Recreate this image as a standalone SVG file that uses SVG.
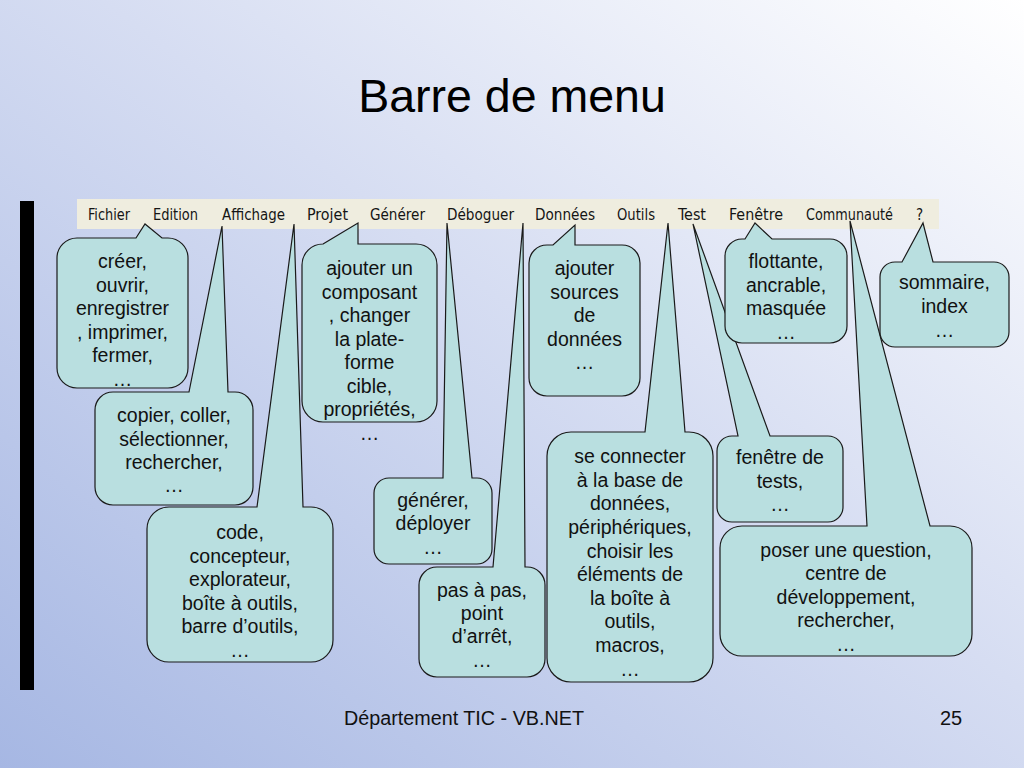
<svg xmlns="http://www.w3.org/2000/svg" width="1024" height="768" viewBox="0 0 1024 768">
<defs>
<linearGradient id="bg" x1="0" y1="1" x2="1" y2="0">
<stop offset="0" stop-color="#a6b7e3"/>
<stop offset="0.55" stop-color="#d6ddf2"/>
<stop offset="1" stop-color="#ffffff"/>
</linearGradient>
<style>
.c{fill:#b9dfe0;stroke:#1a1a1a;stroke-width:1.2;stroke-linejoin:miter}
.t{font-family:"Liberation Sans",Arial,sans-serif;font-size:19.5px;fill:#111;text-anchor:middle}
.m{font-family:"DejaVu Sans Condensed","DejaVu Sans",sans-serif;font-size:15px;fill:#151515}
</style>
</defs>
<rect width="1024" height="768" fill="url(#bg)"/>
<text x="512" y="112" font-family="Liberation Sans, Arial, sans-serif" font-size="46.5" text-anchor="middle" fill="#000">Barre de menu</text>
<rect id="bar" x="20" y="201" width="14" height="489" fill="#000"/>
<g id="menubar">
<rect x="77" y="199" width="862" height="30" fill="#efeddf"/>
<text class="m" x="88" y="220" textLength="42" lengthAdjust="spacingAndGlyphs">Fichier</text>
<text class="m" x="153" y="220" textLength="45" lengthAdjust="spacingAndGlyphs">Edition</text>
<text class="m" x="222" y="220" textLength="63" lengthAdjust="spacingAndGlyphs">Affichage</text>
<text class="m" x="307" y="220" textLength="41" lengthAdjust="spacingAndGlyphs">Projet</text>
<text class="m" x="370" y="220" textLength="55" lengthAdjust="spacingAndGlyphs">Générer</text>
<text class="m" x="447" y="220" textLength="67" lengthAdjust="spacingAndGlyphs">Déboguer</text>
<text class="m" x="535" y="220" textLength="60" lengthAdjust="spacingAndGlyphs">Données</text>
<text class="m" x="617" y="220" textLength="38" lengthAdjust="spacingAndGlyphs">Outils</text>
<text class="m" x="678" y="220" textLength="28" lengthAdjust="spacingAndGlyphs">Test</text>
<text class="m" x="729" y="220" textLength="54" lengthAdjust="spacingAndGlyphs">Fenêtre</text>
<text class="m" x="806" y="220" textLength="87" lengthAdjust="spacingAndGlyphs">Communauté</text>
<text class="m" x="916" y="220">?</text>
</g>
<g id="edition">
<path class="c" d="M113,392 L189,392 L222,226 L228,392 L235,392 A18,18 0 0 1 253,410 L253,487 A18,18 0 0 1 235,505 L113,505 A18,18 0 0 1 95,487 L95,410 A18,18 0 0 1 113,392 Z"/>
<text class="t"><tspan x="174" y="422">copier, coller,</tspan><tspan x="174" y="446">sélectionner,</tspan><tspan x="174" y="469">rechercher,</tspan><tspan x="174" y="492">…</tspan></text>
</g>
<g id="fichier">
<path class="c" d="M77,238 L136,238 L145,224 L162,238 L168,238 A20,20 0 0 1 188,258 L188,368 A20,20 0 0 1 168,388 L77,388 A20,20 0 0 1 57,368 L57,258 A20,20 0 0 1 77,238 Z"/>
<text class="t"><tspan x="122.5" y="268">créer,</tspan><tspan x="122.5" y="292">ouvrir,</tspan><tspan x="122.5" y="315">enregistrer</tspan><tspan x="122.5" y="339">, imprimer,</tspan><tspan x="122.5" y="362">fermer,</tspan><tspan x="122.5" y="386">…</tspan></text>
</g>
<g id="affichage">
<path class="c" d="M169,507 L257,507 L294,224 L303,507 L311,507 A22,22 0 0 1 333,529 L333,640 A22,22 0 0 1 311,662 L169,662 A22,22 0 0 1 147,640 L147,529 A22,22 0 0 1 169,507 Z"/>
<text class="t"><tspan x="240" y="539">code,</tspan><tspan x="240" y="563">concepteur,</tspan><tspan x="240" y="586">explorateur,</tspan><tspan x="240" y="610">boîte à outils,</tspan><tspan x="240" y="633">barre d’outils,</tspan><tspan x="240" y="657">…</tspan></text>
</g>
<g id="projet">
<path class="c" d="M323,244 L358,223 L358,244 L416,244 A21,21 0 0 1 437,265 L437,401 A21,21 0 0 1 416,422 L323,422 A21,21 0 0 1 302,401 L302,265 A21,21 0 0 1 323,244 Z"/>
<text class="t"><tspan x="369.5" y="275">ajouter un</tspan><tspan x="369.5" y="299">composant</tspan><tspan x="369.5" y="322">, changer</tspan><tspan x="369.5" y="346">la plate-</tspan><tspan x="369.5" y="369">forme</tspan><tspan x="369.5" y="393">cible,</tspan><tspan x="369.5" y="416">propriétés,</tspan><tspan x="369.5" y="440">…</tspan></text>
</g>
<g id="generer">
<path class="c" d="M389,478 L443,478 L447,223 L472,478 L477,478 A15,15 0 0 1 492,493 L492,549 A15,15 0 0 1 477,564 L389,564 A15,15 0 0 1 374,549 L374,493 A15,15 0 0 1 389,478 Z"/>
<text class="t"><tspan x="433" y="507">générer,</tspan><tspan x="433" y="530">déployer</tspan><tspan x="433" y="554">…</tspan></text>
</g>
<g id="deboguer">
<path class="c" d="M437,567 L493,567 L523,223 L525,567 L527,567 A18,18 0 0 1 545,585 L545,659 A18,18 0 0 1 527,677 L437,677 A18,18 0 0 1 419,659 L419,585 A18,18 0 0 1 437,567 Z"/>
<text class="t"><tspan x="482" y="597">pas à pas,</tspan><tspan x="482" y="620">point</tspan><tspan x="482" y="643">d’arrêt,</tspan><tspan x="482" y="667">…</tspan></text>
</g>
<g id="donnees">
<path class="c" d="M547,245 L553,245 L575,225 L575,245 L622,245 A18,18 0 0 1 640,263 L640,378 A18,18 0 0 1 622,396 L547,396 A18,18 0 0 1 529,378 L529,263 A18,18 0 0 1 547,245 Z"/>
<text class="t"><tspan x="584.5" y="275">ajouter</tspan><tspan x="584.5" y="299">sources</tspan><tspan x="584.5" y="322">de</tspan><tspan x="584.5" y="346">données</tspan><tspan x="584.5" y="369">…</tspan></text>
</g>
<g id="outils">
<path class="c" d="M571,432 L645,432 L668,223 L685,432 L689,432 A24,24 0 0 1 713,456 L713,658 A24,24 0 0 1 689,682 L571,682 A24,24 0 0 1 547,658 L547,456 A24,24 0 0 1 571,432 Z"/>
<text class="t"><tspan x="630" y="463">se connecter</tspan><tspan x="630" y="487">à la base de</tspan><tspan x="630" y="510">données,</tspan><tspan x="630" y="534">périphériques,</tspan><tspan x="630" y="558">choisir les</tspan><tspan x="630" y="581">éléments de</tspan><tspan x="630" y="605">la boîte à</tspan><tspan x="630" y="628">outils,</tspan><tspan x="630" y="652">macros,</tspan><tspan x="630" y="676">…</tspan></text>
</g>
<g id="test">
<path class="c" d="M732,436 L738,436 L693,224 L770,436 L828,436 A15,15 0 0 1 843,451 L843,507 A15,15 0 0 1 828,522 L732,522 A15,15 0 0 1 717,507 L717,451 A15,15 0 0 1 732,436 Z"/>
<text class="t"><tspan x="780" y="464">fenêtre de</tspan><tspan x="780" y="488">tests,</tspan><tspan x="780" y="511">…</tspan></text>
</g>
<g id="fenetre">
<path class="c" d="M742,239 L745,239 L755,223 L772,239 L830,239 A17,17 0 0 1 847,256 L847,326 A17,17 0 0 1 830,343 L742,343 A17,17 0 0 1 725,326 L725,256 A17,17 0 0 1 742,239 Z"/>
<text class="t"><tspan x="786" y="268">flottante,</tspan><tspan x="786" y="292">ancrable,</tspan><tspan x="786" y="315">masquée</tspan><tspan x="786" y="339">…</tspan></text>
</g>
<g id="communaute">
<path class="c" d="M742,526 L867,526 L850,221 L930,526 L950,526 A22,22 0 0 1 972,548 L972,634 A22,22 0 0 1 950,656 L742,656 A22,22 0 0 1 720,634 L720,548 A22,22 0 0 1 742,526 Z"/>
<text class="t"><tspan x="846" y="557">poser une question,</tspan><tspan x="846" y="580">centre de</tspan><tspan x="846" y="604">développement,</tspan><tspan x="846" y="627">rechercher,</tspan><tspan x="846" y="651">…</tspan></text>
</g>
<g id="aide">
<path class="c" d="M895,262 L902,262 L923,223 L933,262 L994,262 A15,15 0 0 1 1009,277 L1009,332 A15,15 0 0 1 994,347 L895,347 A15,15 0 0 1 880,332 L880,277 A15,15 0 0 1 895,262 Z"/>
<text class="t"><tspan x="944.5" y="289">sommaire,</tspan><tspan x="944.5" y="313">index</tspan><tspan x="944.5" y="337">…</tspan></text>
</g>
<text x="344" y="725" font-family="Liberation Sans, Arial, sans-serif" font-size="20" fill="#111" textLength="240" lengthAdjust="spacingAndGlyphs">Département TIC - VB.NET</text>
<text x="940" y="725" font-family="Liberation Sans, Arial, sans-serif" font-size="20" fill="#111">25</text>
</svg>
